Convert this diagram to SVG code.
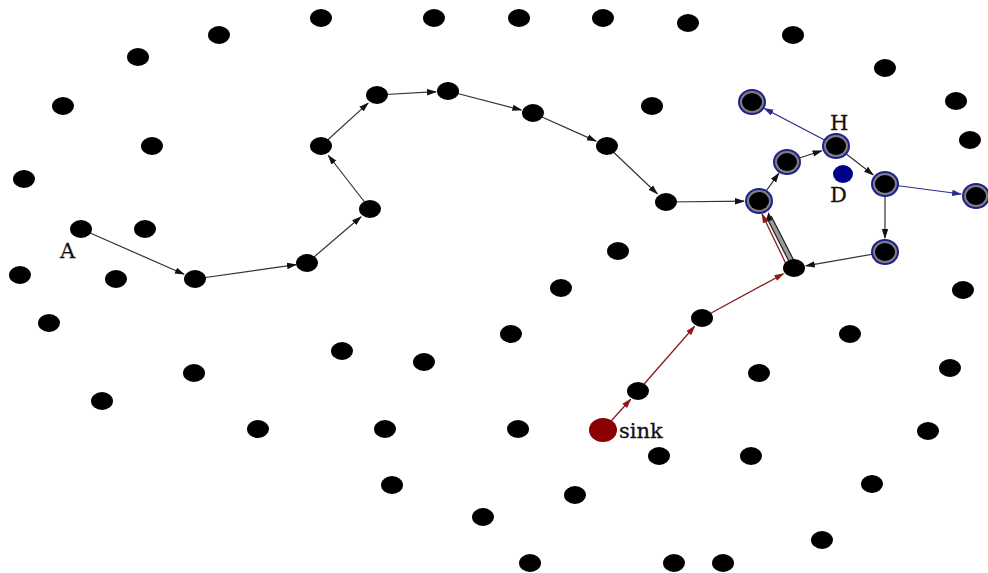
<svg xmlns="http://www.w3.org/2000/svg" width="988" height="573" viewBox="0 0 988 573">
<style>
.n{fill:#000}
.e{stroke:#333;stroke-width:1.2;fill:none}
.eb{stroke:#2b2b8c;stroke-width:1.2;fill:none}
.er{stroke:#8b1a1a;stroke-width:1.3;fill:none}
.lbl{font-family:"DejaVu Serif","Liberation Serif",serif;font-size:21px;fill:#111;stroke:#111;stroke-width:0.3}
</style>
<defs>
<marker id="ak" markerUnits="userSpaceOnUse" markerWidth="10" markerHeight="8" refX="9" refY="4" orient="auto"><path d="M0,0.8 L10,4 L0,7.2 Z" fill="#111"/></marker>
<marker id="ab" markerUnits="userSpaceOnUse" markerWidth="10" markerHeight="8" refX="9" refY="4" orient="auto"><path d="M0,0.8 L10,4 L0,7.2 Z" fill="#2b2b8c"/></marker>
<marker id="ar" markerUnits="userSpaceOnUse" markerWidth="10" markerHeight="8" refX="9" refY="4" orient="auto"><path d="M0,0.8 L10,4 L0,7.2 Z" fill="#8b1a1a"/></marker>
<g id="bn"><ellipse rx="14" ry="13" fill="#1f1f8f"/><ellipse rx="12" ry="11" fill="#808080"/><ellipse rx="10" ry="9" fill="#000"/></g>
</defs>
<g id="connectors">
<line class="e" x1="81" y1="229" x2="184" y2="274.2" marker-end="url(#ak)"/>
<line class="e" x1="195" y1="279" x2="296" y2="264.7" marker-end="url(#ak)"/>
<line class="e" x1="307" y1="263" x2="361" y2="216.8" marker-end="url(#ak)"/>
<line class="e" x1="370" y1="209" x2="328.4" y2="155.5" marker-end="url(#ak)"/>
<line class="e" x1="321" y1="146" x2="368.1" y2="103.1" marker-end="url(#ak)"/>
<line class="e" x1="377" y1="95" x2="436" y2="91.7" marker-end="url(#ak)"/>
<line class="e" x1="448" y1="91" x2="521.4" y2="110" marker-end="url(#ak)"/>
<line class="e" x1="533" y1="113" x2="596" y2="141.1" marker-end="url(#ak)"/>
<line class="e" x1="607" y1="146" x2="657.3" y2="193.7" marker-end="url(#ak)"/>
<line class="e" x1="666" y1="202" x2="744" y2="201.2" marker-end="url(#ak)"/>
<line class="e" x1="759" y1="201" x2="778.8" y2="173.4" marker-end="url(#ak)"/>
<line class="e" x1="787" y1="162" x2="821.7" y2="150.7" marker-end="url(#ak)"/>
<line class="eb" x1="836" y1="146" x2="764.4" y2="108.5" marker-end="url(#ab)"/>
<line class="e" x1="836" y1="146" x2="873.1" y2="174.8" marker-end="url(#ak)"/>
<line class="eb" x1="885" y1="184" x2="961.1" y2="194" marker-end="url(#ab)"/>
<line class="e" x1="885" y1="184" x2="885" y2="238" marker-end="url(#ak)"/>
<line class="e" x1="885" y1="252" x2="805.8" y2="265.9" marker-end="url(#ak)"/>
<line x1="793" y1="264" x2="769" y2="217" stroke="#222" stroke-width="6"/>
<line x1="793" y1="264" x2="769" y2="217" stroke="#9a9a9a" stroke-width="3.5"/>
<path d="M768.5,212 L765.5,222 L772.5,220 Z" fill="#111"/>
<line class="er" x1="788" y1="268" x2="762" y2="214" marker-end="url(#ar)"/>
<line class="er" x1="603" y1="430" x2="630.7" y2="399.2" marker-end="url(#ar)"/>
<line class="er" x1="638" y1="391" x2="694.7" y2="326.3" marker-end="url(#ar)"/>
<line class="er" x1="702" y1="318" x2="783.5" y2="273.7" marker-end="url(#ar)"/>
</g>
<g id="nodes">
<ellipse class="n" cx="321" cy="18" rx="11" ry="9"/>
<ellipse class="n" cx="434" cy="18" rx="11" ry="9"/>
<ellipse class="n" cx="519" cy="18" rx="11" ry="9"/>
<ellipse class="n" cx="603" cy="18" rx="11" ry="9"/>
<ellipse class="n" cx="688" cy="23" rx="11" ry="9"/>
<ellipse class="n" cx="793" cy="35" rx="11" ry="9"/>
<ellipse class="n" cx="219" cy="35" rx="11" ry="9"/>
<ellipse class="n" cx="138" cy="57" rx="11" ry="9"/>
<ellipse class="n" cx="885" cy="68" rx="11" ry="9"/>
<ellipse class="n" cx="63" cy="106" rx="11" ry="9"/>
<ellipse class="n" cx="652" cy="106" rx="11" ry="9"/>
<ellipse class="n" cx="956" cy="101" rx="11" ry="9"/>
<ellipse class="n" cx="152" cy="146" rx="11" ry="9"/>
<ellipse class="n" cx="970" cy="140" rx="11" ry="9"/>
<ellipse class="n" cx="24" cy="179" rx="11" ry="9"/>
<ellipse class="n" cx="145" cy="229" rx="11" ry="9"/>
<ellipse class="n" cx="20" cy="275" rx="11" ry="9"/>
<ellipse class="n" cx="116" cy="279" rx="11" ry="9"/>
<ellipse class="n" cx="618" cy="251" rx="11" ry="9"/>
<ellipse class="n" cx="561" cy="288" rx="11" ry="9"/>
<ellipse class="n" cx="963" cy="290" rx="11" ry="9"/>
<ellipse class="n" cx="49" cy="323" rx="11" ry="9"/>
<ellipse class="n" cx="511" cy="334" rx="11" ry="9"/>
<ellipse class="n" cx="850" cy="334" rx="11" ry="9"/>
<ellipse class="n" cx="342" cy="351" rx="11" ry="9"/>
<ellipse class="n" cx="424" cy="362" rx="11" ry="9"/>
<ellipse class="n" cx="194" cy="373" rx="11" ry="9"/>
<ellipse class="n" cx="759" cy="373" rx="11" ry="9"/>
<ellipse class="n" cx="950" cy="368" rx="11" ry="9"/>
<ellipse class="n" cx="102" cy="401" rx="11" ry="9"/>
<ellipse class="n" cx="258" cy="429" rx="11" ry="9"/>
<ellipse class="n" cx="385" cy="429" rx="11" ry="9"/>
<ellipse class="n" cx="518" cy="429" rx="11" ry="9"/>
<ellipse class="n" cx="928" cy="431" rx="11" ry="9"/>
<ellipse class="n" cx="659" cy="456" rx="11" ry="9"/>
<ellipse class="n" cx="751" cy="456" rx="11" ry="9"/>
<ellipse class="n" cx="392" cy="485" rx="11" ry="9"/>
<ellipse class="n" cx="575" cy="495" rx="11" ry="9"/>
<ellipse class="n" cx="872" cy="484" rx="11" ry="9"/>
<ellipse class="n" cx="483" cy="517" rx="11" ry="9"/>
<ellipse class="n" cx="822" cy="540" rx="11" ry="9"/>
<ellipse class="n" cx="530" cy="563" rx="11" ry="9"/>
<ellipse class="n" cx="674" cy="563" rx="11" ry="9"/>
<ellipse class="n" cx="723" cy="563" rx="11" ry="9"/>
<g id="nodeA"><ellipse class="n" cx="81" cy="229" rx="11" ry="9"/><text class="lbl" x="60" y="258">A</text></g>
<ellipse class="n" cx="195" cy="279" rx="11" ry="9"/>
<ellipse class="n" cx="307" cy="263" rx="11" ry="9"/>
<ellipse class="n" cx="370" cy="209" rx="11" ry="9"/>
<ellipse class="n" cx="321" cy="146" rx="11" ry="9"/>
<ellipse class="n" cx="377" cy="95" rx="11" ry="9"/>
<ellipse class="n" cx="448" cy="91" rx="11" ry="9"/>
<ellipse class="n" cx="533" cy="113" rx="11" ry="9"/>
<ellipse class="n" cx="607" cy="146" rx="11" ry="9"/>
<ellipse class="n" cx="666" cy="202" rx="11" ry="9"/>
<ellipse class="n" cx="638" cy="391" rx="11" ry="9"/>
<ellipse class="n" cx="702" cy="318" rx="11" ry="9"/>
<ellipse class="n" cx="794" cy="268" rx="11" ry="9"/>
<use href="#bn" x="759" y="201"/>
<use href="#bn" x="787" y="162"/>
<g id="nodeH"><use href="#bn" x="836" y="146"/><text class="lbl" x="830" y="130">H</text></g>
<use href="#bn" x="752" y="102"/>
<use href="#bn" x="885" y="184"/>
<use href="#bn" x="976" y="196"/>
<use href="#bn" x="885" y="252"/>
<g id="nodeD"><ellipse cx="843" cy="174" rx="10" ry="9" fill="#00008b"/><text class="lbl" x="830" y="202">D</text></g>
<g id="sink"><ellipse cx="603" cy="430" rx="14" ry="12" fill="#8b0000"/><text class="lbl" x="619" y="438">sink</text></g>
</g>
</svg>
